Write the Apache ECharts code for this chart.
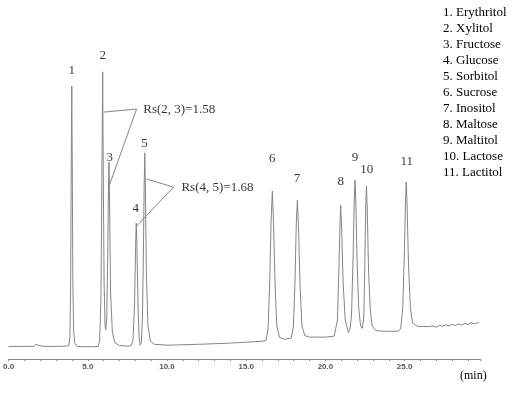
<!DOCTYPE html>
<html>
<head>
<meta charset="utf-8">
<script src="https://cdn.jsdelivr.net/npm/echarts@6/dist/echarts.min.js"></script>
<style>
html,body{margin:0;padding:0;background:#fff;}
#c{width:519px;height:394px;}
</style>
</head>
<body>
<div id="c"></div>
<script>
// ---- data ----
const compounds = ['Erythritol','Xylitol','Fructose','Glucose','Sorbitol','Sucrose','Inositol','Maltose','Maltitol','Lactose','Lactitol'];
const xTicks = [0, 5, 10, 15, 20, 25];

// chromatogram trace [time (min), response]
const trace = [
  [0,4.2],[1.0,4.2],[1.6,4.2],[1.72,4.9],[1.8,5.1],[1.9,4.5],[2.2,4.2],[3.0,4.2],[3.6,4.3],
  [3.80,4.4],[3.87,7],[3.92,25],[3.96,70],[3.99,91],[4.02,65],[4.06,25],[4.11,9],[4.18,5.2],[4.3,4.3],[4.6,4.1],[5.3,4.1],
  [5.65,4.2],[5.75,6],[5.83,20],[5.89,60],[5.94,95.7],[5.98,60],[6.03,25],[6.09,11],[6.14,9.7],[6.2,14],[6.26,35],[6.31,58],[6.34,65.7],[6.38,50],[6.44,22],[6.55,9],[6.7,5.5],[7.0,4.5],[7.5,4.3],
  [7.72,4.4],[7.85,6],[7.95,18],[8.02,38],[8.06,45.3],[8.1,38],[8.17,18],[8.24,7],[8.31,4.6],[8.38,5.5],[8.45,14],[8.51,35],[8.56,58],[8.60,68.7],[8.64,55],[8.7,28],[8.8,11],[8.95,6],[9.2,4.9],[10,4.6],[12,4.9],[14,5.3],[16.0,5.9],
  [16.25,6.2],[16.38,10],[16.48,25],[16.57,46],[16.65,56],[16.72,46],[16.82,25],[16.93,11],[17.1,7.2],[17.4,6.6],[17.7,6.8],
  [17.85,7.1],[17.98,11],[18.08,26],[18.16,45],[18.23,53],[18.3,44],[18.4,24],[18.52,11],[18.7,7.8],[19.0,7.3],[20.0,7.3],[20.55,7.6],
  [20.65,8.2],[20.76,13],[20.85,30],[20.92,45],[20.96,51.3],[21.02,44],[21.12,25],[21.25,13],[21.45,8.8],[21.55,10],
  [21.65,15],[21.75,35],[21.82,53],[21.87,59.7],[21.92,52],[22.0,32],[22.1,17],[22.22,11],[22.33,10.2],[22.42,14],
  [22.48,30],[22.54,50],[22.59,57.7],[22.64,50],[22.72,30],[22.82,17],[22.95,11],[23.2,9.4],[24.0,9.2],[24.6,9.3],
  [24.75,10],[24.88,17],[24.98,35],[25.05,52],[25.1,59],[25.15,52],[25.24,32],[25.36,17],[25.5,12],[25.8,10.9],[26.5,10.8],
  [26.8,11.0],[27.0,10.6],[27.2,11.2],[27.4,10.9],[27.6,11.4],[27.8,11.0],[28.0,11.6],[28.2,11.2],[28.4,11.7],[28.6,11.3],[28.8,11.9],[29.0,11.5],[29.2,12.1],[29.4,11.7],[29.7,12.2]
];

// peak number labels: retention time and label anchor level
const peakLabels = ['1','2','3','4','5','6','7','8','9','10','11'];
const peakTimes  = [3.99, 5.94, 6.38, 8.02, 8.58, 16.64, 18.21, 20.97, 21.86, 22.60, 25.13];
const labelLevels = [96.3, 101, 67.3, 50, 71.7, 66.7, 60, 59, 67.3, 63, 65.7];

// resolution annotations
const rsTexts = ['Rs(2, 3)=1.58', 'Rs(4, 5)=1.68'];
const rsTextAt = [[8.5, 83], [10.91, 57.2]];
const rsLeaders = [
  [[6.01, 82.3], [8.08, 83.3], [6.32, 57.3]],
  [[8.71, 60], [10.41, 57.3], [8.08, 44.3]]
];

// ---- chart ----
const chart = echarts.init(document.getElementById('c'), null, {renderer: 'canvas'});
const serif = '"Liberation Serif", "Times New Roman", serif';

const markLines = [];
rsLeaders.forEach(p => {
  markLines.push([{coord: p[0]}, {coord: p[1]}]);
  markLines.push([{coord: p[1]}, {coord: p[2]}]);
});

const textData = peakLabels.map((s, i) => ({
  value: [peakTimes[i], labelLevels[i]], name: s,
  label: {show: true, formatter: s, position: 'inside', align: 'center', verticalAlign: 'middle'}
})).concat(rsTexts.map((s, i) => ({
  value: rsTextAt[i], name: s,
  label: {show: true, formatter: s, position: 'inside', align: 'left', verticalAlign: 'middle'}
})));

chart.setOption({
  animation: false,
  backgroundColor: '#fff',
  grid: {left: 7.5, right: 38.3, top: 29, bottom: 35, containLabel: false},
  xAxis: {
    type: 'value', min: 0, max: 29.8, interval: 5,
    axisLine: {show: true, lineStyle: {color: '#8c8c8c', width: 1}},
    axisTick: {show: true, length: 2, lineStyle: {color: '#8c8c8c'}},
    minorTick: {show: true, splitNumber: 5, length: 2, lineStyle: {color: '#8c8c8c'}},
    splitLine: {show: false},
    axisLabel: {
      margin: 4, color: '#555', fontSize: 8, fontWeight: 'bold',
      fontFamily: '"Liberation Sans", Arial, sans-serif',
      formatter: v => xTicks.indexOf(v) >= 0 ? v.toFixed(1) : ''
    }
  },
  yAxis: {type: 'value', min: 0, max: 110, show: false, splitLine: {show: false}},
  graphic: [
    {
      type: 'text', left: 443, top: 5,
      style: {
        text: compounds.map((c, i) => (i + 1) + '. ' + c).join('\n'),
        font: '13px ' + serif, fill: '#000', lineHeight: 16
      }
    },
    {
      type: 'text', left: 460, top: 370,
      style: {text: '(min)', font: '12px ' + serif, fill: '#000'}
    }
  ],
  series: [
    {
      type: 'line', data: trace, showSymbol: false, symbol: 'none', silent: true,
      lineStyle: {color: '#858585', width: 1},
      markLine: {
        silent: true, symbol: ['none', 'none'], animation: false,
        label: {show: false},
        lineStyle: {color: '#858585', width: 1, type: 'solid'},
        emphasis: {disabled: true},
        data: markLines
      }
    },
    {
      type: 'scatter', data: textData, symbolSize: 0, silent: true,
      label: {color: '#000', fontSize: 13, fontFamily: serif}
    }
  ]
});
</script>
</body>
</html>
